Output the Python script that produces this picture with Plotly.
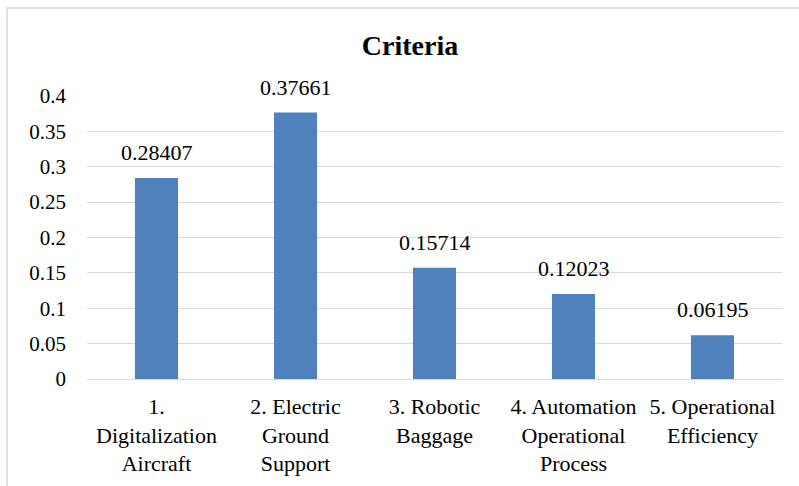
import plotly.graph_objects as go

categories = [
    "1.<br>Digitalization<br>Aircraft",
    "2. Electric<br>Ground<br>Support",
    "3. Robotic<br>Baggage",
    "4. Automation<br>Operational<br>Process",
    "5. Operational<br>Efficiency",
]
weights = [0.28407, 0.37661, 0.15714, 0.12023, 0.06195]
y_ticks = [0, 0.05, 0.1, 0.15, 0.2, 0.25, 0.3, 0.35, 0.4]
y_tick_labels = ["0", "0.05", "0.1", "0.15", "0.2", "0.25", "0.3", "0.35", "0.4"]

FONT = "'Liberation Serif', 'Times New Roman', 'Liberation Sans', sans-serif"
BAR_COLOR = "#4F81BD"
GRID = "#D9D9D9"

fig = go.Figure(
    go.Bar(
        x=categories,
        y=weights,
        marker=dict(color=BAR_COLOR, line=dict(width=0)),
        width=0.31,
        hoverinfo="x+y",
    )
)

# value labels above each bar
for c, v in zip(categories, weights):
    fig.add_annotation(
        x=c, y=v, text=f"{v}", showarrow=False,
        yanchor="bottom", yshift=11,
        font=dict(family=FONT, size=22, color="#000000"),
    )

# outer chart frame
fig.add_shape(
    type="rect", xref="paper", yref="paper",
    x0=-0.1151, x1=1.2, y0=-0.6, y1=1.311,
    line=dict(color=GRID, width=1.5), fillcolor="rgba(0,0,0,0)",
    layer="below",
)

fig.update_layout(
    width=799, height=486,
    margin=dict(l=87, r=17, t=96, b=107, autoexpand=False),
    paper_bgcolor="white", plot_bgcolor="white",
    showlegend=False,
    title=dict(
        text="<b>Criteria</b>", x=410 / 799, xref="container", xanchor="center",
        y=1 - 45 / 486, yref="container", yanchor="middle",
        font=dict(family=FONT, size=28, color="#000000"),
    ),
    font=dict(family=FONT, size=21, color="#000000"),
    xaxis=dict(
        automargin=False,
        showgrid=False, showline=False, zeroline=False,
        ticks="", tickangle=0, ticklabelstandoff=12,
        tickfont=dict(family=FONT, size=22, color="#000000"),
    ),
    yaxis=dict(
        automargin=False,
        range=[0, 0.4], tickvals=y_ticks, ticktext=y_tick_labels,
        showgrid=True, gridcolor=GRID, gridwidth=1.3,
        zeroline=True, zerolinecolor=GRID, zerolinewidth=1.3,
        showline=False, ticks="", ticklabelstandoff=20,
        tickfont=dict(family=FONT, size=21, color="#000000"),
    ),
)

fig.write_html("out.html")
